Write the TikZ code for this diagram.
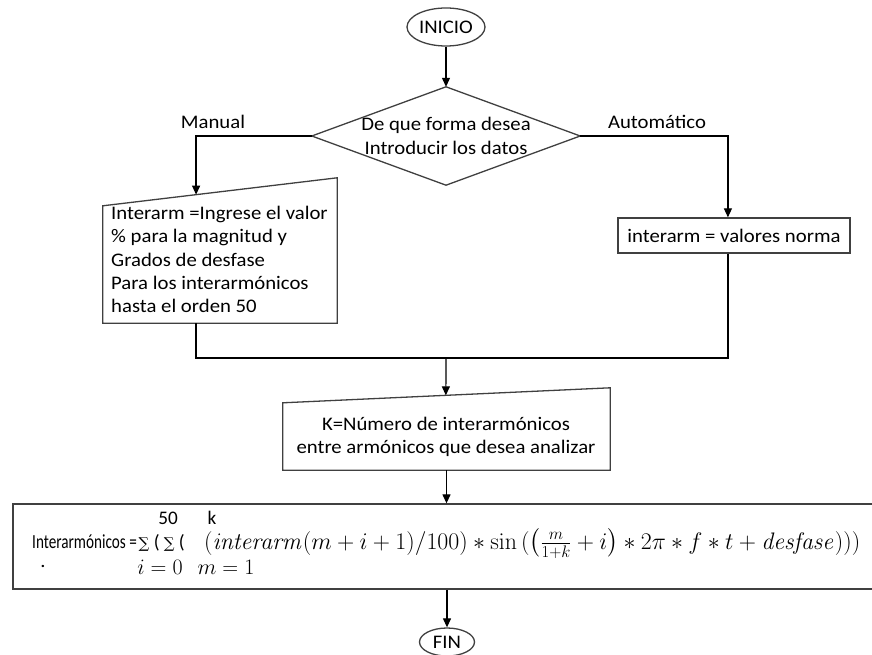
\RequirePackage{fix-cm}
\documentclass[tikz,border=0pt]{standalone}
\usepackage{amsmath}
\usepackage[no-math]{fontspec}
\setmainfont{Carlito}[FakeStretch=1.08]
\newfontfamily\narrowfont{Carlito}[FakeStretch=0.76]
\newfontfamily\plainfont{Carlito}
\newfontfamily\sumfont{DejaVu Serif}
\usetikzlibrary{shapes.geometric,arrows.meta,calc}

\begin{document}
\begin{tikzpicture}[x=1pt,y=-1pt,
  font=\fontsize{19.2}{23.3}\selectfont,
  shapeline/.style={draw=black!75, line width=1.3pt},
  flow/.style={draw=black, line width=1.2pt},
  arr/.style={flow, -{Triangle[width=8pt,length=9pt]}},
  terminal/.style={ellipse, shapeline, inner sep=0pt},
  frame/.style={rectangle, inner sep=0pt},
  label/.style={inner sep=0pt},
  narrow/.style={inner sep=0pt, font=\fontsize{20}{24}\narrowfont},
  limit/.style={inner sep=0pt, font=\fontsize{19.2}{23.3}\plainfont},
  mathsmall/.style={inner sep=0pt, font=\fontsize{22}{26}\selectfont},
]
\useasboundingbox (0,0) rectangle (872,655);
\clip (0,0) rectangle (872,655);

% start / end
\node[terminal, minimum width=78pt, minimum height=38pt] (ini) at (446,27) {INICIO};
\node[terminal, minimum width=55pt, minimum height=28pt] (fin) at (447,642) {FIN};

% decision
\node[frame, minimum width=268pt, minimum height=98pt, align=center] (dec) at (446,136)
  {De que forma desea\\Introducir los datos};
\draw[shapeline] (dec.north) -- (dec.east) -- (dec.south) -- (dec.west) -- cycle;

\node[label] (lman) at (213,122) {Manual};
\node[label] (laut) at (657,122) {Automático};

% manual input of the values
\node[frame, minimum width=234pt, minimum height=145pt] (man) at (220,250.5) {};
\draw[shapeline] (man.south west) -- (man.south east) -- (man.north east)
  -- ($(man.north west)+(0,28)$) -- cycle;
\node[label, align=left, anchor=north west] (mantext) at (111,206)
  {Interarm =Ingrese el valor\\\% para la magnitud y\\Grados de desfase\\Para los interarmónicos\\hasta el orden 50};
\coordinate (manin) at ($($(man.north west)+(0,28)$)!0.398!(man.north east)$);

% values from the standard
\node[frame, shapeline, minimum width=232pt, minimum height=35pt] (auto) at (734,235.5)
  {interarm = valores norma};
\coordinate (autoin) at ($(auto.north west)!0.474!(auto.north east)$);

% number of interharmonics
\node[frame, minimum width=327pt, minimum height=82pt] (kbox) at (446.5,429) {};
\draw[shapeline] (kbox.south west) -- (kbox.south east) -- (kbox.north east)
  -- ($(kbox.north west)+(0,15)$) -- cycle;
\node[label, align=center] (ktext) at (446,437)
  {K=Número de interarmónicos\\entre armónicos que desea analizar};
\coordinate (kin) at ($($(kbox.north west)+(0,15)$)!0.498!(kbox.north east)$);

% result: double sum over i and m
\node[frame, shapeline, minimum width=872pt, minimum height=85pt] (form) at (449,546.5) {};
\node[narrow, anchor=base west] (formtxt) at (32,548) {Interarmónicos =};
\node[limit, anchor=base west] (sums) at (138.5,548)
  {{\fontsize{15}{18}\sumfont ∑} ( {\fontsize{15}{18}\sumfont ∑} (};
\node[label, anchor=base west, font=\fontsize{25}{30}\selectfont] (formula) at (204,549)
  {\resizebox{656pt}{!}{$(\mathit{interarm}(m+i+1)/100)\ast\sin\,(\left(\frac{m}{1+k}+i\right)\ast 2\pi\ast f\ast t+\mathit{desfase})))$}};
\node[limit] (upI) at (168,518) {50};
\node[limit] (upK) at (212,518) {k};
\node[label] (dot) at (43,566) {.};
\node[mathsmall] (lowI) at (160,567) {$i=0$};
\node[mathsmall] (lowM) at (226,567) {$m=1$};

% connectors
\coordinate (join) at (446,358);
\draw[arr] (ini) -- (dec);
\draw[arr] (dec.west) -| (manin);
\draw[arr] (dec.east) -| (autoin);
\draw[flow] (manin |- man.south) |- (join) -| (autoin |- auto.south);
\draw[arr] (join) -- (kin);
\draw[arr] (kbox.south) -- (form.north -| kbox.south);
\draw[arr] (fin |- form.south) -- (fin);
\end{tikzpicture}
\end{document}
